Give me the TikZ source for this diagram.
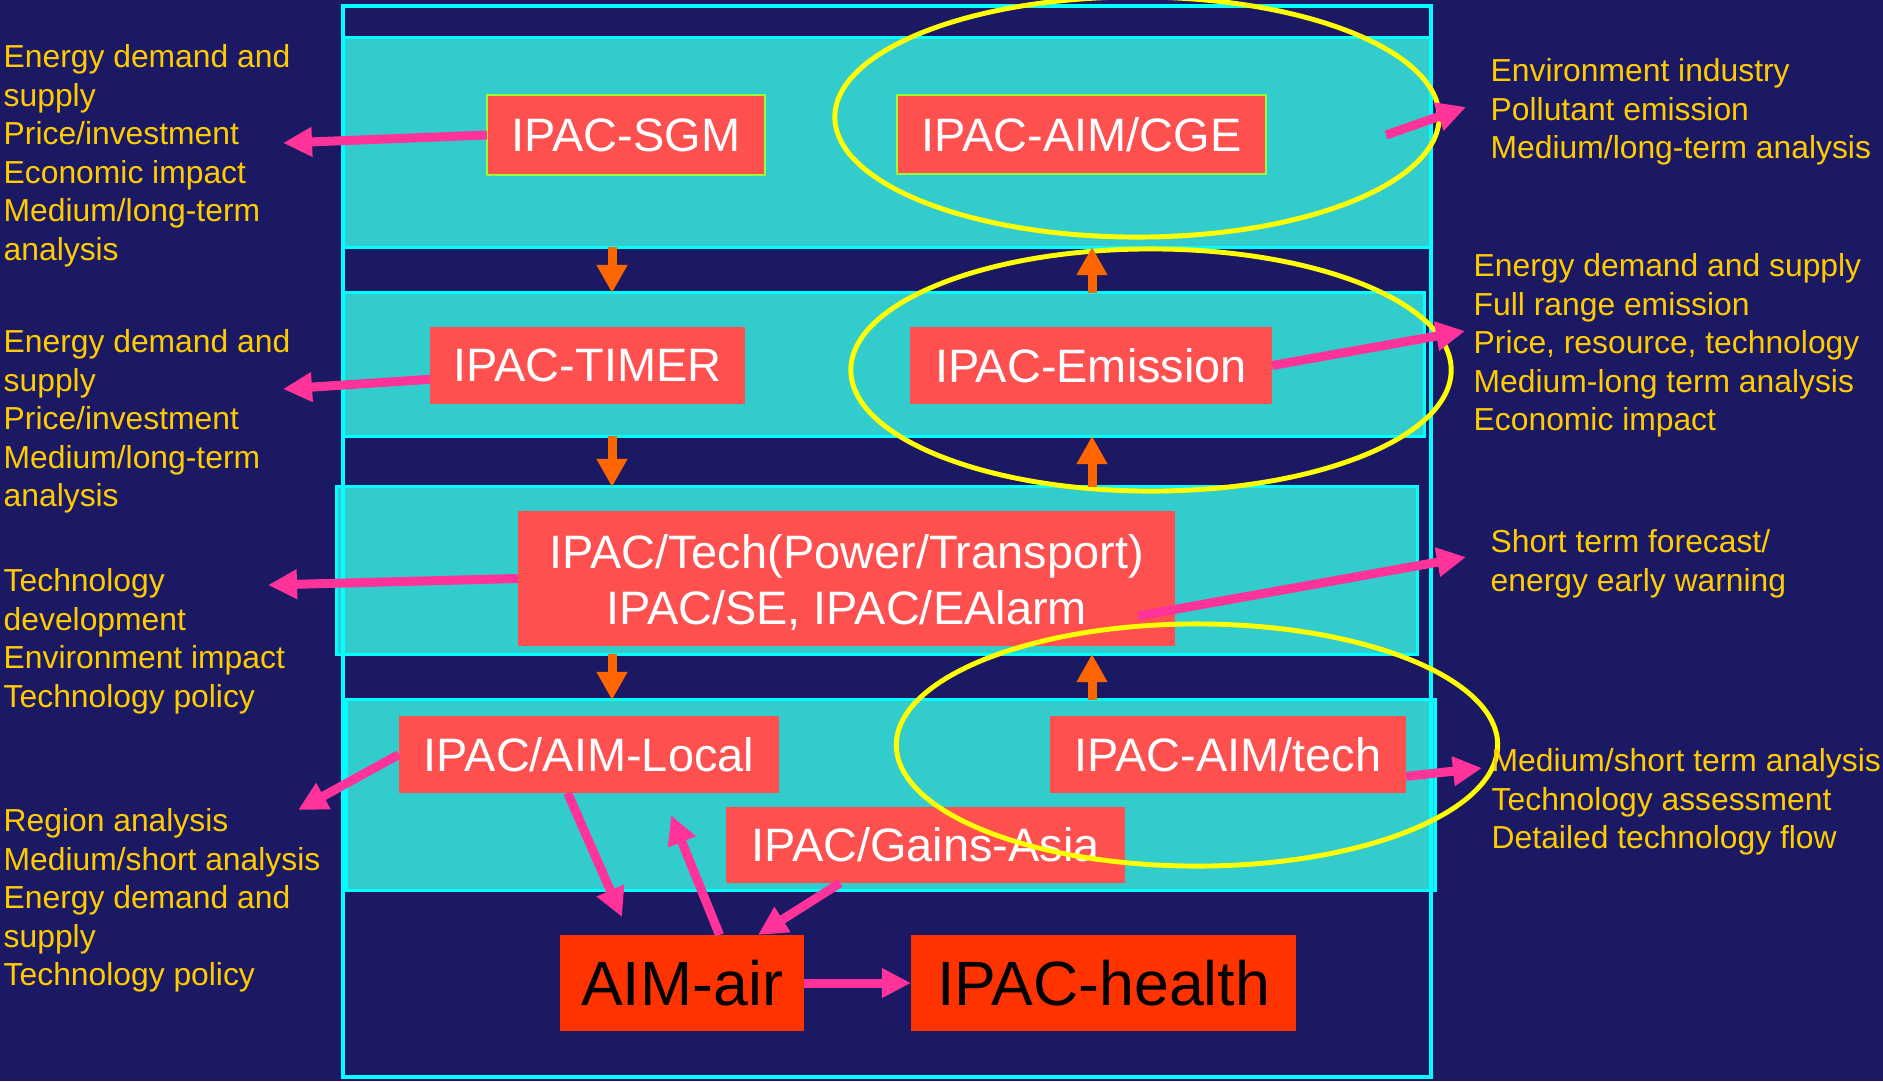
\documentclass[tikz,border=0pt]{standalone}
\usepackage{fontspec}
\setmainfont{Liberation Sans}
\usepackage{tikz}
\usetikzlibrary{arrows.meta}
\usetikzlibrary{shapes.geometric}

\definecolor{navy}{RGB}{27,25,99}
\definecolor{bandteal}{RGB}{51,204,204}
\definecolor{linecyan}{RGB}{0,255,255}
\definecolor{boxred}{RGB}{255,80,80}
\definecolor{hotred}{RGB}{255,51,0}
\definecolor{limeline}{RGB}{153,255,51}
\definecolor{noteyellow}{RGB}{255,204,0}
\definecolor{ringyellow}{RGB}{255,255,0}
\definecolor{arrowpink}{RGB}{255,51,153}
\definecolor{arroworange}{RGB}{255,102,0}

\begin{document}
\begin{tikzpicture}[x=0.01cm,y=-0.01cm,
    band/.style={draw=linecyan,line width=0.85pt,fill=bandteal,inner sep=0pt,outer sep=0pt},
    box/.style={fill=boxred,text=white,inner sep=0pt,outer sep=0pt,align=center,
        font=\fontsize{13.34}{16.0}\selectfont},
    bigbox/.style={fill=hotred,text=black,inner sep=0pt,outer sep=0pt,
        font=\fontsize{17.8}{21}\selectfont},
    note/.style={text=noteyellow,inner sep=0pt,anchor=north west,align=left,
        font=\fontsize{9.05}{10.95}\selectfont},
    ring/.style={ellipse,draw=ringyellow,line width=1.4pt,inner sep=0pt},
    pinkarrow/.style={arrowpink,line width=2.56pt,-{Triangle[length=0.29cm,width=0.28cm]}},
    orangearrow/.style={arroworange,line width=2.56pt,-{Triangle[length=0.28cm,width=0.29cm]}}]
    \useasboundingbox (0,0) rectangle (1883,1081);
    \fill [navy] (0,0) rectangle (1883,1081);

    \node [band,minimum width=10.87cm,minimum height=2.09cm] (b1) at (886.5,142.5) {};
    \node [band,minimum width=10.81cm,minimum height=1.43cm] (b2) at (883.5,364.5) {};
    \node [band,minimum width=10.80cm,minimum height=1.67cm] (b3) at (877,570.5) {};
    \node [band,minimum width=10.88cm,minimum height=1.90cm] (b4) at (891,795) {};
    \draw [linecyan,line width=1.4pt] (343,6) rectangle (1431,1077);

    \node [box,draw=limeline,line width=0.6pt,minimum width=2.78cm,minimum height=0.80cm] (sgm) at (626,135) {IPAC-SGM};
    \node [box,draw=limeline,line width=0.6pt,minimum width=3.69cm,minimum height=0.79cm] (cge) at (1081.5,134.5) {IPAC-AIM/CGE};
    \node [box,minimum width=3.15cm,minimum height=0.77cm] (timer) at (587.5,365.5) {IPAC-TIMER};
    \node [box,minimum width=3.62cm,minimum height=0.77cm] (emis) at (1091,365.5) {IPAC-Emission};
    \node [box,minimum width=6.57cm,minimum height=1.35cm] (tech) at (846.5,578.5) {\raisebox{-1.2pt}[\height][\depth]{\parbox{6.5cm}{\centering IPAC/Tech(Power/Transport)\\IPAC/SE, IPAC/EAlarm}}};
    \node [box,minimum width=3.80cm,minimum height=0.77cm] (local) at (589,754.5) {IPAC/AIM-Local};
    \node [box,minimum width=3.56cm,minimum height=0.77cm] (aimtech) at (1228,754.5) {IPAC-AIM/tech};
    \node [box,minimum width=3.99cm,minimum height=0.76cm] (gains) at (925.5,845) {IPAC/Gains-Asia};
    \node [bigbox,minimum width=2.44cm,minimum height=0.96cm] (air) at (682,983) {AIM-air};
    \node [bigbox,minimum width=3.85cm,minimum height=0.96cm] (health) at (1103.5,983) {IPAC-health};

    \node [ring,minimum width=6.04cm,minimum height=2.40cm] (r1) at (1137,117) {};
    \node [ring,minimum width=6.00cm,minimum height=2.42cm] (r2) at (1151,370) {};
    \node [ring,minimum width=6.01cm,minimum height=2.42cm] (r3) at (1197,745) {};

    \node [note] (l1) at (3,44) {Energy demand and\\supply\\Price/investment\\Economic impact\\Medium/long-term\\analysis};
    \node [note] (l2) at (3,329) {Energy demand and\\supply\\Price/investment\\Medium/long-term\\analysis};
    \node [note] (l3) at (3,568) {Technology\\development\\Environment impact\\Technology policy};
    \node [note] (l4) at (3,808) {Region analysis\\Medium/short analysis\\Energy demand and\\supply\\Technology policy};
    \node [note] (n1) at (1490,58) {Environment industry\\Pollutant emission\\Medium/long-term analysis};
    \node [note] (n2) at (1473,253) {Energy demand and supply\\Full range emission\\Price, resource, technology\\Medium-long term analysis\\Economic impact};
    \node [note] (n3) at (1490,529) {Short term forecast/\\energy early warning};
    \node [note] (n4) at (1491,748) {Medium/short term analysis\\Technology assessment\\Detailed technology flow};

    \coordinate (t1) at (283,143);
    \coordinate (t2) at (283,389);
    \coordinate (t3) at (268,585);
    \coordinate (t4) at (298,810);
    \coordinate (s5) at (1386,135);
    \coordinate (t5) at (1466,107);
    \coordinate (t6) at (1465,331);
    \coordinate (s7) at (1138,616);
    \coordinate (t7) at (1466,557);
    \coordinate (t8) at (1482,768);
    \coordinate (t9) at (622,917);
    \coordinate (t10) at (671,815);
    \coordinate (cl) at (612,0);
    \coordinate (cr) at (1092,0);

    \path [orangearrow]
        (b1.south -| cl) edge (b2.north -| cl)
        (b2.south -| cl) edge (b3.north -| cl)
        (b3.south -| cl) edge (b4.north -| cl)
        (b2.north -| cr) edge (b1.south -| cr)
        (b3.north -| cr) edge (b2.south -| cr)
        (b4.north -| cr) edge (b3.south -| cr);
    \path [pinkarrow]
        (sgm.west) edge (t1)
        (timer.185) edge (t2)
        (tech.west) edge (t3)
        (local.west) edge (t4)
        (s5) edge (t5)
        (emis.east) edge (t6)
        (s7) edge (t7)
        (aimtech.-7) edge (t8)
        (local.241) edge (t9)
        (air.52) edge (t10)
        (gains.204) edge (air)
        (air) edge (health);
\end{tikzpicture}
\end{document}
